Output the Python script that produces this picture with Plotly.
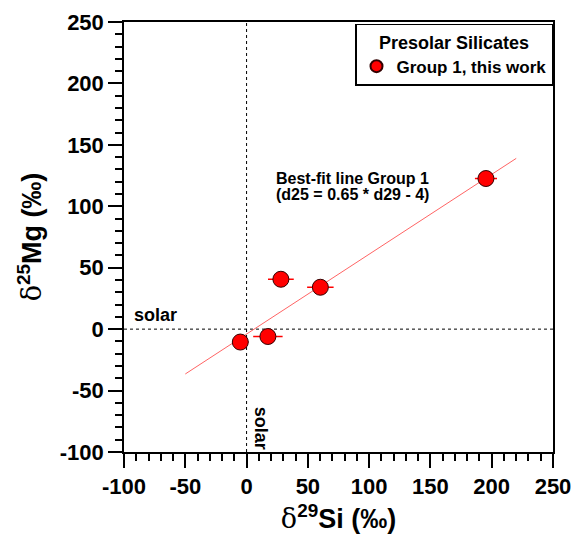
import plotly.graph_objects as go

# Data
si29 = [-5.1, 17.4, 28.0, 60.2, 195.3]
mg25 = [-10.5, -6.0, 40.6, 34.1, 122.6]
si29_err = [6.5, 12.0, 10.5, 10.8, 9.0]
fit_slope = 0.65
fit_intercept = -4
fit_x = [-50, 220]
fit_y = [fit_slope * v + fit_intercept for v in fit_x]
x_ticks = [-100, -50, 0, 50, 100, 150, 200, 250]
x_ticktext = ["-100", "-50", "0", "50", "100", "150", "200", "250"]
y_ticks = [-100, -50, 0, 50, 100, 150, 200, 250]
y_ticktext = ["-100", "-50", "0", "50", "100", "150", "200", "250"]
x_range = [-100, 250]
y_range = [-100, 250]

FONT = "Liberation Sans, Arial, sans-serif"

fig = go.Figure()

fig.add_trace(go.Scatter(
    x=fit_x, y=fit_y, mode="lines",
    line=dict(color="rgb(255,100,100)", width=1),
    showlegend=False, hoverinfo="skip",
))

fig.add_trace(go.Scatter(
    x=si29, y=mg25, mode="markers", name="<b>Group 1, this work</b>",
    marker=dict(size=16, color="#ff0000", line=dict(color="rgb(50,0,0)", width=1)),
    error_x=dict(type="data", array=si29_err, visible=True, color="#ff0000",
                 thickness=1.5, width=0),
))

# Solar reference lines
fig.add_shape(type="line", x0=0, x1=0, y0=y_range[0], y1=y_range[1], xref="x", yref="y",
              line=dict(color="black", width=1, dash="dot"), layer="below")
fig.add_shape(type="line", x0=x_range[0], x1=x_range[1], y0=0, y1=0, xref="x", yref="y",
              line=dict(color="black", width=1, dash="dot"), layer="below")

fig.add_annotation(x=-74, y=11.2, text="<b>solar</b>", showarrow=False,
                   font=dict(family=FONT, size=18, color="black"))
fig.add_annotation(x=11.7, y=-81, text="<b>solar</b>", showarrow=False, textangle=90,
                   font=dict(family=FONT, size=18, color="black"))
fig.add_annotation(x=22.5, y=122.8, text="<b>Best-fit line Group 1</b>", showarrow=False,
                   xanchor="left", font=dict(family=FONT, size=16, color="black"))
fig.add_annotation(x=22.5, y=110, text="<b>(d25 = 0.65 * d29 - 4)</b>", showarrow=False,
                   xanchor="left", font=dict(family=FONT, size=16, color="black"))

axis_common = dict(
    showgrid=False, zeroline=False, showline=True, linecolor="black", linewidth=1.5,
    mirror=True, ticks="outside", ticklen=14, tickwidth=1.5, tickcolor="black",
    tickfont=dict(family=FONT, size=22, color="black", weight="bold"),
    minor=dict(ticks="outside", ticklen=7, tickwidth=1.5, tickcolor="black", dtick=10),
    automargin=False,
)

fig.update_xaxes(range=x_range, tickvals=x_ticks, ticktext=x_ticktext, **axis_common,
                 title=dict(text="<span style='font-weight:normal;font-family:DejaVu Serif'>δ</span><sup>29</sup>Si (‰)",
                            font=dict(family=FONT, size=27, color="black", weight="bold"),
                            standoff=12))
fig.update_yaxes(range=y_range, tickvals=y_ticks, ticktext=y_ticktext, **axis_common,
                 title=dict(text="<span style='font-weight:normal;font-family:DejaVu Serif'>δ</span><sup>25</sup>Mg (‰)",
                            font=dict(family=FONT, size=27, color="black", weight="bold"),
                            standoff=10))

fig.update_layout(
    width=575, height=534,
    margin=dict(l=123.5, r=21.5, t=21.5, b=81.5, autoexpand=False),
    paper_bgcolor="white", plot_bgcolor="white",
    showlegend=True,
    legend=dict(
        x=1.0, xanchor="right", y=0.996, yanchor="top",
        bgcolor="white", bordercolor="black", borderwidth=1.5,
        title=dict(text="<b>Presolar Silicates</b>", side="top center",
                   font=dict(family=FONT, size=18, color="black")),
        font=dict(family=FONT, size=17, color="black"),
        itemsizing="constant", itemwidth=30,
    ),
)

fig.write_html("out.html")
